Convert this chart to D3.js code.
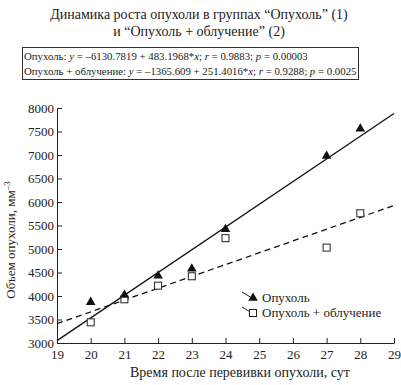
<!DOCTYPE html>
<html lang="ru">
  <head>
    <meta charset="utf-8">
    <title>Динамика роста опухоли</title>
    <script src="https://d3js.org/d3.v7.min.js"></script>
    <style>
      body { margin: 0; background: #fff; }
      .axis path, .axis line { stroke: #222; }
    </style>
  </head>
  <body>
    <svg id="chart" width="401" height="385"></svg>
    <script>

    // data **********************************
    let days = [20, 21, 22, 23, 24, 27, 28]
    let tumor = [3870, 4020, 4430, 4580, 5420, 6980, 7560]
    let tumorIrr = [3440, 3930, 4220, 4420, 5230, 5030, 5760]

    // regression coefficients [intercept, slope]
    let fitTumor = [-6130.7819, 483.1968]
    let fitTumorIrr = [-1365.609, 251.4016]

    let xTicks = d3.range(19, 30, 1)
    let yTicks = d3.range(3000, 8001, 500)

    let titleLines = ["Динамика роста опухоли в группах “Опухоль” (1)", "и “Опухоль + облучение” (2)"]
    let legendNames = ["Опухоль", "Опухоль + облучение"]

    // layout ********************************
    let svg = d3.select("#chart")
    let mLeft = 57, mRight = 394, mTop = 108, mBottom = 343
    let serif = '"Liberation Serif"'

    let x = d3.scaleLinear().domain([19, 29]).range([mLeft, mRight])
    let y = d3.scaleLinear().domain([3000, 8000]).range([mBottom, mTop])

    // title
    svg.selectAll(".title")
      .data(titleLines)
      .join("text")
        .attr("class", "title")
        .attr("x", 199)
        .attr("y", (d, i) => 19 + i * 17)
        .attr("text-anchor", "middle")
        .style("font-size", "14px")
        .text(d => d)

    // equations box
    svg.append("rect")
      .attr("x", 22.5).attr("y", 47.5)
      .attr("width", 336).attr("height", 32)
      .attr("fill", "none").attr("stroke", "#333")

    let eq = svg.append("g").style("font-size", "10.8px")
    let line1 = eq.append("text").attr("x", 24).attr("y", 60)
    line1.append("tspan").text("Опухоль: ")
    line1.append("tspan").style("font-style", "italic").text("y")
    line1.append("tspan").text(" = –6130.7819 + 483.1968*")
    line1.append("tspan").style("font-style", "italic").text("x")
    line1.append("tspan").text("; ")
    line1.append("tspan").style("font-style", "italic").text("r")
    line1.append("tspan").text(" = 0.9883; ")
    line1.append("tspan").style("font-style", "italic").text("p")
    line1.append("tspan").text(" = 0.00003")

    let line2 = eq.append("text").attr("x", 24).attr("y", 75)
    line2.append("tspan").text("Опухоль + облучение: ")
    line2.append("tspan").style("font-style", "italic").text("y")
    line2.append("tspan").text(" = –1365.609 + 251.4016*")
    line2.append("tspan").style("font-style", "italic").text("x")
    line2.append("tspan").text("; ")
    line2.append("tspan").style("font-style", "italic").text("r")
    line2.append("tspan").text(" = 0.9288; ")
    line2.append("tspan").style("font-style", "italic").text("p")
    line2.append("tspan").text(" = 0.0025")

    // axes
    let xAxis = svg.append("g")
      .attr("class", "axis")
      .attr("transform", `translate(0,${mBottom})`)
      .call(d3.axisBottom(x).tickValues(xTicks).tickFormat(d3.format("d")).tickSizeInner(-5).tickSizeOuter(0).tickPadding(7))
    xAxis.selectAll("text").style("font-size", "13px")

    let yAxis = svg.append("g")
      .attr("class", "axis")
      .attr("transform", `translate(${mLeft},0)`)
      .call(d3.axisLeft(y).tickValues(yTicks).tickFormat(d3.format("d")).tickSizeInner(-5).tickSizeOuter(0).tickPadding(3))
    yAxis.selectAll("text").style("font-size", "13px")

    // axis titles
    svg.append("text")
      .attr("x", 240).attr("y", 377)
      .attr("text-anchor", "middle")
      .style("font-size", "14px")
      .text("Время после перевивки опухоли, сут")

    let ylab = svg.append("text")
      .attr("transform", `translate(15,240) rotate(-90)`)
      .attr("text-anchor", "middle")
      .style("font-size", "13px")
    ylab.append("tspan").text("Объем опухоли, мм")
    ylab.append("tspan").attr("dy", -5).style("font-size", "9px").text("–3")

    // fit lines
    let fitLine = c => [[19, c[0] + c[1] * 19], [29, c[0] + c[1] * 29]]
    let lineGen = d3.line().x(d => x(d[0])).y(d => y(d[1]))

    svg.append("path")
      .attr("d", lineGen(fitLine(fitTumor)))
      .attr("stroke", "#111").attr("stroke-width", 1.3).attr("fill", "none")

    svg.append("path")
      .attr("d", lineGen(fitLine(fitTumorIrr)))
      .attr("stroke", "#111").attr("stroke-width", 1.3).attr("fill", "none")
      .attr("stroke-dasharray", "6,4")

    // markers
    let tri = d3.symbol().type(d3.symbolTriangle).size(40)

    svg.selectAll(".sq")
      .data(days)
      .join("rect")
        .attr("class", "sq")
        .attr("x", (d, i) => x(d) - 3.5)
        .attr("y", (d, i) => y(tumorIrr[i]) - 3.5)
        .attr("width", 7).attr("height", 7)
        .attr("fill", "#fff").attr("stroke", "#222")

    svg.selectAll(".tri")
      .data(days)
      .join("path")
        .attr("class", "tri")
        .attr("d", tri)
        .attr("transform", (d, i) => `translate(${x(d)},${y(tumor[i])})`)
        .attr("fill", "#111")

    // legend
    let legend = svg.append("g").attr("transform", "translate(242,0)")
    legendNames.forEach(function(name, i) {
      let cy = 298 + i * 15
      legend.append("line")
        .attr("x1", 0).attr("y1", cy - 6)
        .attr("x2", 10).attr("y2", cy)
        .attr("stroke", "#222")
      if (i == 0) {
        legend.append("path").attr("d", tri).attr("transform", `translate(11,${cy})`).attr("fill", "#111")
      } else {
        legend.append("rect").attr("x", 7.5).attr("y", cy - 3.5).attr("width", 7).attr("height", 7)
          .attr("fill", "#fff").attr("stroke", "#222")
      }
      legend.append("text")
        .attr("x", 20).attr("y", cy + 4)
        .style("font-size", "13px")
        .text(name)
    })

    // same serif face everywhere
    svg.selectAll("text").style("font-family", serif).attr("fill", "#222")

    </script>
  </body>
</html>
